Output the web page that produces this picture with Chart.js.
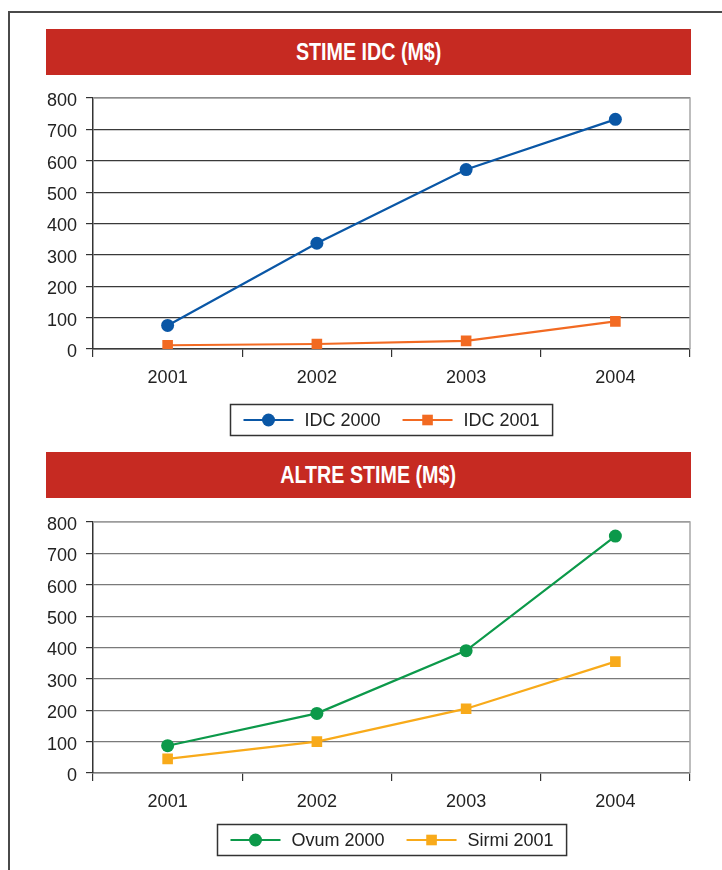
<!DOCTYPE html>
<html>
<head>
<meta charset="utf-8">
<script src="https://cdn.jsdelivr.net/npm/chart.js@4"></script>
<style>
  body { margin: 0; width: 722px; height: 870px; background: #fff; position: relative; overflow: hidden; }
  .frame { position: absolute; left: 8px; top: 11px; width: 730px; height: 880px;
           border-top: 2px solid #4a4a4a; border-left: 2px solid #4a4a4a; }
  .bar { position: absolute; left: 46px; width: 645px; height: 46px; background: #c62a22;
         color: #fff; font: bold 24px "Liberation Sans", Arial, sans-serif;
         line-height: 46px; text-align: center; }
  .bar span { display: inline-block; transform: scaleX(0.82); }
  .box { position: absolute; left: 0; width: 722px; height: 365px; }
</style>
</head>
<body>
<div class="frame"></div>
<div class="bar" style="top:29px"><span>STIME IDC (M$)</span></div>
<div class="box" style="top:78px"><canvas id="chart1"></canvas></div>
<div class="bar" style="top:452px"><span>ALTRE STIME (M$)</span></div>
<div class="box" style="top:502px"><canvas id="chart2"></canvas></div>
<script>
// DATI
const years = ['2001', '2002', '2003', '2004'];
const idc2000 = [75, 337, 572, 732];
const idc2001 = [12, 16, 26, 88];
const ovum2000 = [87, 190, 390, 755];
const sirmi2001 = [45, 100, 205, 355];

const FONT = '"Liberation Sans", Arial, sans-serif';

// bordo superiore e destro dell'area del grafico
const plotFrame = {
    id: 'plotFrame',
    beforeDatasetsDraw(chart) {
        const { ctx, chartArea: a } = chart;
        ctx.save();
        ctx.strokeStyle = '#a8a8a8';
        ctx.lineWidth = 1.5;
        ctx.beginPath();
        ctx.moveTo(a.left, a.top);
        ctx.lineTo(a.right, a.top);
        ctx.lineTo(a.right, a.bottom);
        ctx.stroke();
        ctx.restore();
    }
};

// legenda in riquadro con linea + marcatore
const boxLegend = {
    id: 'boxLegend',
    afterDraw(chart, args, opts) {
        const { ctx, chartArea } = chart;
        ctx.save();
        ctx.font = '18px ' + FONT;
        const sym = 50, gapText = 11, gapItem = 22, padL = 13, padR = 13, h = 31;
        const items = chart.data.datasets.map(ds => ({ ds, w: ctx.measureText(ds.label).width }));
        let total = padL + padR;
        items.forEach((it, i) => { total += sym + gapText + it.w + (i ? gapItem : 0); });
        const x0 = Math.round((chartArea.left + chartArea.right) / 2 - total / 2) + 0.5;
        const y0 = Math.round(chartArea.bottom + opts.offset) + 0.5;
        ctx.strokeStyle = '#333';
        ctx.lineWidth = 1.5;
        ctx.strokeRect(x0, y0, total, h);
        const cy = y0 + h / 2;
        let x = x0 + padL;
        items.forEach((it, i) => {
            if (i) x += gapItem;
            const ds = it.ds;
            ctx.strokeStyle = ds.borderColor;
            ctx.lineWidth = ds.borderWidth;
            ctx.beginPath();
            ctx.moveTo(x, cy);
            ctx.lineTo(x + sym, cy);
            ctx.stroke();
            ctx.fillStyle = ds.pointBackgroundColor;
            ctx.beginPath();
            if (ds.pointStyle === 'rect') {
                const s = ds.pointRadius * Math.SQRT1_2;
                ctx.rect(x + sym / 2 - s, cy - s, 2 * s, 2 * s);
            } else {
                ctx.arc(x + sym / 2, cy, ds.pointRadius, 0, Math.PI * 2);
            }
            ctx.fill();
            ctx.fillStyle = '#222';
            ctx.textBaseline = 'middle';
            ctx.fillText(ds.label, x + sym + gapText, cy + 1);
            x += sym + gapText + it.w;
        });
        ctx.restore();
    }
};

function makeChart(id, labelA, dataA, colorA, labelB, dataB, colorB, gridColor, legendOffset) {
    return new Chart(document.getElementById(id), {
        type: 'line',
        data: {
            labels: years,
            datasets: [{
                label: labelA,
                data: dataA,
                borderColor: colorA,
                backgroundColor: colorA,
                pointBackgroundColor: colorA,
                borderWidth: 2.2,
                pointStyle: 'circle',
                pointRadius: 6.5,
                pointBorderWidth: 0,
                tension: 0
            }, {
                label: labelB,
                data: dataB,
                borderColor: colorB,
                backgroundColor: colorB,
                pointBackgroundColor: colorB,
                borderWidth: 2.2,
                pointStyle: 'rect',
                pointRadius: 7.5,
                pointBorderWidth: 0,
                tension: 0
            }]
        },
        options: {
            responsive: false,
            animation: false,
            devicePixelRatio: 1,
            layout: { padding: { top: 20, right: 32, left: 0, bottom: 0 } },
            plugins: {
                legend: { display: false },
                tooltip: { enabled: false },
                boxLegend: { offset: legendOffset }
            },
            scales: {
                x: {
                    offset: true,
                    grid: { offset: true, drawOnChartArea: false, tickLength: 8, color: '#333', lineWidth: 1.2 },
                    border: { color: gridColor, width: 1.5 },
                    ticks: { color: '#222', font: { family: FONT, size: 18 }, padding: 10 },
                    afterFit(s) { s.height = 94; }
                },
                y: {
                    min: 0,
                    max: 800,
                    grid: { color: gridColor, lineWidth: 1.2, tickLength: 7, tickColor: '#333' },
                    border: { color: '#333', width: 1.5 },
                    ticks: { stepSize: 100, color: '#222', font: { family: FONT, size: 18 }, padding: 9, labelOffset: 3 },
                    afterFit(s) { s.width = 93; }
                }
            }
        },
        plugins: [plotFrame, boxLegend]
    });
}

const c1 = document.getElementById('chart1');
c1.width = 722; c1.height = 365;
const c2 = document.getElementById('chart2');
c2.width = 722; c2.height = 365;

makeChart('chart1', 'IDC 2000', idc2000, '#0a57a6', 'IDC 2001', idc2001, '#f26a22', '#3a3a3a', 55);
makeChart('chart2', 'Ovum 2000', ovum2000, '#0c994a', 'Sirmi 2001', sirmi2001, '#f8aa1a', '#7a7a7a', 51);
</script>
</body>
</html>
